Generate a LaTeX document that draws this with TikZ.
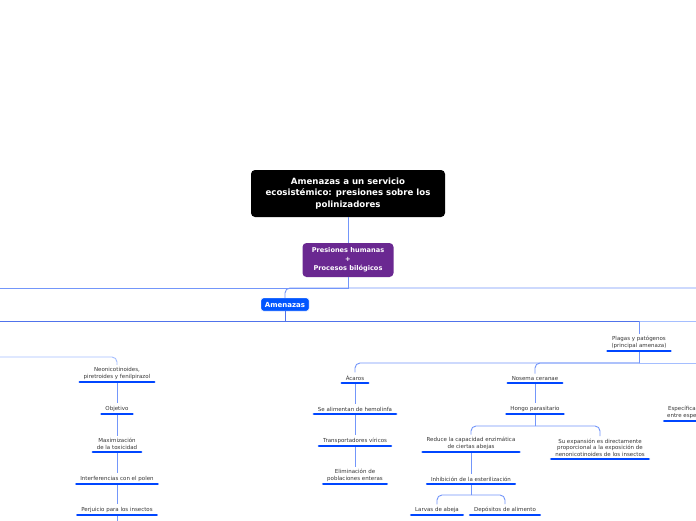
\documentclass[tikz,border=0pt]{standalone}
\usepackage{fontspec}
\setmainfont{DejaVu Sans}
\definecolor{conn}{RGB}{115,150,250}
\definecolor{connlight}{RGB}{165,190,255}
\definecolor{conndark}{RGB}{80,115,235}
\definecolor{barblue}{RGB}{0,70,255}
\definecolor{txt}{RGB}{55,55,55}
\definecolor{purp}{RGB}{106,40,145}
\definecolor{amblue}{RGB}{0,85,255}
\begin{document}
\begin{tikzpicture}[x=1pt,y=-1pt,
  line/.style={draw=conn, line width=0.9pt},
  bar/.style={draw=barblue, line width=2.6pt, line cap=round, shorten <=1.2pt, shorten >=1.2pt},
  leaf/.style={font=\fontsize{5.5}{6.5}\selectfont, text=txt, align=center, inner xsep=5pt, inner ysep=2.5pt, anchor=south},
  bigbox/.style={rounded corners=4pt, text=white, align=center, inner sep=2pt}
]
\useasboundingbox (0,0) rectangle (696,520);
\clip (0,0) rectangle (696,520);
\fill[white] (0,0) rectangle (696,520);

% off-screen end points
\coordinate (offL1) at (-5,288);
\coordinate (offR1) at (701,288);
\coordinate (offL2) at (-5,321);
\coordinate (offR2) at (701,321);
\coordinate (offL3) at (-5,357);
\coordinate (offR3) at (701,363);
\coordinate (offR4) at (701,421);
\coordinate (offB) at (117,526);

% main nodes
\node[bigbox, fill=black, minimum width=194pt, minimum height=47pt,
  font=\fontsize{8.6}{11.5}\selectfont\bfseries] (title) at (348,193.5)
  {Amenazas a un servicio\\ecosistémico: presiones sobre los\\polinizadores};
\node[bigbox, fill=purp, minimum width=91pt, minimum height=34pt,
  font=\fontsize{6.6}{9}\selectfont\bfseries] (pres) at (348,260)
  {Presiones humanas\\+\\Procesos bilógicos};
\node[fill=amblue, draw=white, rounded corners=2.5pt, minimum width=48pt, minimum height=13pt,
  inner sep=1pt, text=white, font=\fontsize{7}{8}\selectfont\bfseries] (amen) at (285,304.5) {Amenazas};

% leaves (placed at bar centre)
\node[leaf] (plagas) at (639,351) {Plagas y patógenos\\(principal amenaza)};

\node[leaf] (neo) at (117,382) {Neonicotinoides,\\piretroides y fenilpirazol};
\node[leaf] (obj) at (117,414) {Objetivo};
\node[leaf] (maxim) at (117,452) {Maximización\\de la toxicidad};
\node[leaf] (interf) at (117,484) {Interferencias con el polen};
\node[leaf] (perj) at (117,515) {Perjuicio para los insectos};

\node[leaf] (acaros) at (355,383) {Ácaros};
\node[leaf] (hemo) at (355,414) {Se alimentan de hemolinfa};
\node[leaf] (transp) at (355,446) {Transportadores víricos};
\node[leaf] (elim) at (355,484) {Eliminación de\\poblaciones enteras};

\node[leaf] (nosema) at (535,383) {Nosema ceranae};
\node[leaf] (hongo) at (535,414) {Hongo parasitario};
\node[leaf] (reduce) at (471,452) {Reduce la capacidad enzimática\\de ciertas abejas};
\node[leaf] (suexp) at (600,459) {Su expansión es directamente\\proporcional a la exposición de\\nenonicotinoides de los insectos};
\node[leaf] (inhib) at (471,484) {Inhibición de la esterilización};
\node[leaf] (larvas) at (437,515) {Larvas de abeja};
\node[leaf] (depos) at (505,515) {Depósitos de alimento};

\node[leaf, inner xsep=0pt, anchor=south west] (espec) at (667,421) {Específica\\entre espe};

% connectors
\draw[line] (title.south) -- (pres.north);
\draw[line] (pres.south) -- (pres.south |- offL1) -- (offL1);
\draw[line, rounded corners=5pt] (offR1) -| (amen.north);

\draw[line, draw=conndark] (amen.south) -- (amen.south |- offL2) -- (offL2);
\draw[line, draw=conndark] (amen.south |- offR2) -- (plagas.north |- offR2);
\draw[line, draw=connlight] (plagas.north |- offR2) -- (offR2);
\draw[line] (plagas.north |- offR2) -- (plagas.north);

\draw[line] (plagas.south) -- (plagas.south |- offR3) coordinate (j3);
\draw[line, draw=connlight] (j3) -- (offR3);
\draw[line, rounded corners=5pt] (j3) -| (acaros.north);
\draw[line, rounded corners=5pt] (j3) -| (nosema.north);

\draw[line, draw=connlight, rounded corners=5pt] (offL3) -| (neo.north);

\foreach \a/\b in {neo/obj, obj/maxim, maxim/interf, interf/perj,
  acaros/hemo, hemo/transp, transp/elim, nosema/hongo, reduce/inhib}
  \draw[line] (\a.south) -- (\b.north);
\draw[line] (perj.south) -- (offB);

\draw[line] (hongo.south) -- ++(0,12) coordinate (j4);
\draw[line, rounded corners=5pt] (j4) -| (reduce.north);
\draw[line, rounded corners=5pt] (j4) -| (suexp.north);
\draw[line] (inhib.south) -- ++(0,11) coordinate (j5);
\draw[line, rounded corners=5pt] (j5) -| (larvas.north);
\draw[line, rounded corners=5pt] (j5) -| (depos.north);

% underline bars
\foreach \n in {plagas, neo, obj, maxim, interf, perj, acaros, hemo, transp, elim,
  nosema, hongo, reduce, suexp, inhib, larvas, depos}
  \draw[bar] (\n.south west) -- (\n.south east);
\draw[bar] ([xshift=-4pt]espec.south west) -- (offR4);
\end{tikzpicture}
\end{document}
